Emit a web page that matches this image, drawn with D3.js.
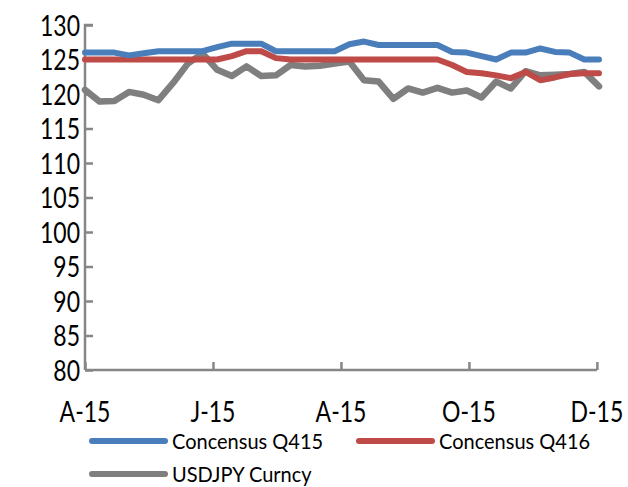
<!DOCTYPE html>
<html><head><meta charset="utf-8">
<script src="https://cdn.jsdelivr.net/npm/d3@7"></script>
<style>body{margin:0;background:#fff}svg{display:block}text{font-family:Lato,"Open Sans",sans-serif;fill:#000}</style>
</head><body><svg id="c" width="628" height="487"></svg>
<script>
const startDate = "2015-04-01";
const seriesNames = ["Concensus Q415", "Concensus Q416", "USDJPY Curncy"];
const q415 = [126,126,126,125.6,125.9,126.2,126.2,126.2,126.2,126.8,127.3,127.3,127.3,126.2,126.2,126.2,126.2,126.2,127.2,127.6,127.1,127.1,127.1,127.1,127.1,126.1,126,125.5,125,126,126,126.6,126.1,126,125,125];
const q416 = [125,125,125,125,125,125,125,125,125,125,125.5,126.2,126.2,125.2,125,125,125,125,125,125,125,125,125,125,125,124.2,123.2,123,122.7,122.3,123.2,122,122.4,122.9,123,123];
const usdjpy = [120.6,118.9,119,120.3,119.9,119.1,121.6,124.4,125.9,123.5,122.6,124,122.6,122.7,124.2,124,124.1,124.4,124.7,122,121.8,119.3,120.8,120.2,120.9,120.2,120.5,119.5,121.8,120.8,123.3,122.7,122.8,122.9,123.2,121.1];
const xTickDates = ["2015-04-01","2015-06-01","2015-08-01","2015-10-01","2015-12-01"];
const xTickLabels = ["A-15","J-15","A-15","O-15","D-15"];
const yTicks = [80,85,90,95,100,105,110,115,120,125,130];

const colors = ["#4A7EBB","#BE4B48","#7F7F7F"];
const svg = d3.select("#c");
const parse = d3.utcParse("%Y-%m-%d");
const d0 = parse(startDate);
const dates = q415.map((_, i) => d3.utcDay.offset(d0, 7 * i));

const x = d3.scaleUtc().domain([d0, d3.utcDay.offset(d0, 245)]).range([85, 599]);
const y = d3.scaleLinear().domain([80, 130]).range([370, 25]);
const stretch = 1.28;

// y axis
const ya = svg.append("g").attr("transform", "translate(85,0)")
  .call(d3.axisRight(y).tickValues(yTicks).tickSize(8).tickFormat(""));
ya.select(".domain").attr("d", `M8,${y(130)}H0V${y(80)}`);
ya.selectAll(".domain,.tick line").attr("stroke", "#868686").attr("stroke-width", 2.5);
svg.append("g").selectAll("g").data(yTicks).join("g")
  .attr("transform", d => `translate(80,${y(d)}) scale(1,${stretch})`)
  .append("text").attr("dy", "0.36em")
  .attr("text-anchor", "end").attr("font-size", 23).text(d => d);

// x axis
const xa = svg.append("g").attr("transform", "translate(0,370)")
  .call(d3.axisTop(x).tickValues(xTickDates.map(parse)).tickSize(8).tickFormat(""));
xa.select(".domain").attr("d", `M85,0H${x(parse("2015-12-01"))}`);
xa.selectAll(".domain,.tick line").attr("stroke", "#868686").attr("stroke-width", 2.5);
svg.append("g").selectAll("g").data(xTickDates).join("g")
  .attr("transform", d => `translate(${x(parse(d))},411) scale(1,${stretch})`)
  .append("text").attr("dy", "0.36em")
  .attr("text-anchor", "middle").attr("font-size", 23).text((d, i) => xTickLabels[i]);

// lines
const line = d3.line().x((d, i) => x(dates[i])).y(d => y(d));
const data = [q415, q416, usdjpy];
[2, 1, 0].forEach(k => {
  svg.append("path").attr("d", line(data[k])).attr("fill", "none")
    .attr("stroke", colors[k]).attr("stroke-width", k === 2 ? 6.5 : 6)
    .attr("stroke-linejoin", "round").attr("stroke-linecap", "round");
});

// legend
const leg = [{x: 89, y: 441}, {x: 356, y: 441}, {x: 89, y: 474}];
leg.forEach((p, k) => {
  svg.append("line").attr("x1", p.x + 3).attr("x2", p.x + 76).attr("y1", p.y).attr("y2", p.y)
    .attr("stroke", colors[k]).attr("stroke-width", 6).attr("stroke-linecap", "round");
  svg.append("g").attr("transform", `translate(${p.x + 83},${p.y}) scale(1,1.05)`)
    .append("text").attr("dy", "0.36em")
    .attr("font-size", 20).text(seriesNames[k]);
});
</script></body></html>
